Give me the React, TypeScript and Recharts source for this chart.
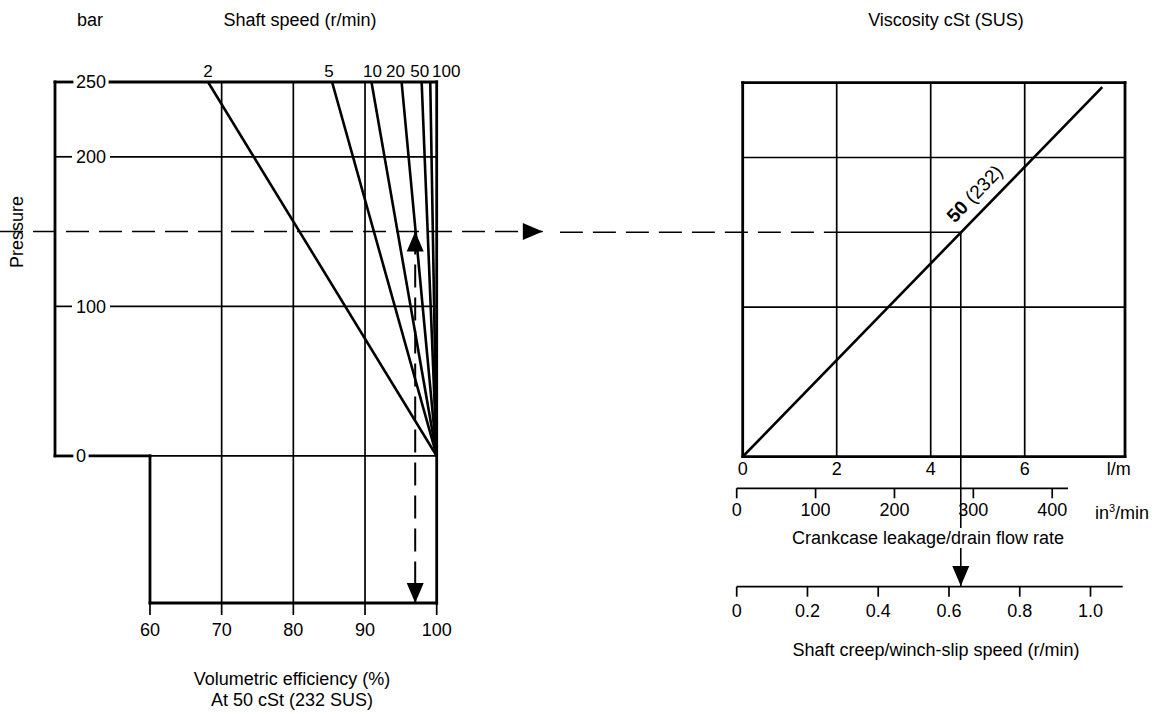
import React from 'react';
import { LineChart, Line, XAxis, YAxis, ReferenceLine } from 'recharts';

const FONT = "'Liberation Sans', Arial, sans-serif";
const INK = '#000';

// pressure (bar)
const pressureTicks = [0, 100, 200, 250];
const pressureGrid = [100, 200];

// volumetric efficiency (%)
const efficiencyTicks = [60, 70, 80, 90, 100];
const efficiencyGrid = [70, 80, 90];

// shaft speed lines (r/min): efficiency reached at 250 bar, all start at 100 % / 0 bar
const shaftSpeeds = ['2', '5', '10', '20', '50', '100'];
const efficiencyAt250 = [68.1, 85.4, 90.9, 95.1, 97.9, 99.1];
const speedLabelShift = [0, -3, 1, -6, -2, 16];

// crankcase leakage at 50 cSt (232 SUS)
const leakFlow = [0, 7.65];
const leakPressure = [0, 247];
const flowTicks = [0, 2, 4, 6, 8];
const flowGrid = [2, 4, 6];

const in3Ticks = [0, 100, 200, 300, 400];
const creepTicks = [0, 0.2, 0.4, 0.6, 0.8, 1.0];

// worked example
const examplePressure = 150;
const exampleEfficiency = 97;
const exampleFlow = 4.64;

// axis extents
const EFF_MIN = 46.75;
const EFF_MAX = 100;
const P_MIN = -98.3;
const P_MAX = 250;
const FLOW_MAX = 8.134;
const IN3_MAX = 420;
const CREEP_MAX = 1.091;

// left chart: 7.168 px per % efficiency, plot starts at x = 55
const PX_PER_EFF = 7.168;
const LABEL_X = 76;
const effAtPx = (px: number) => EFF_MIN + (px - 55) / PX_PER_EFF;
const stubEnd = effAtPx(LABEL_X - 4);
const gapEnd = (label: string) => effAtPx(LABEL_X + label.length * 10 + 4);

const THICK = 2.8;
const THIN = 1.7;

const speedData = shaftSpeeds.map((s, i) => [
  { eff: EFF_MAX, p: 0, speed: s },
  { eff: efficiencyAt250[i], p: P_MAX, speed: s },
]);
const leakData = leakFlow.map((f, i) => ({ flow: f, p: leakPressure[i] }));

const head = (tx: number, ty: number, fx: number, fy: number, len = 20, half = 8.5) => {
  const a = Math.atan2(ty - fy, tx - fx);
  const bx = tx - len * Math.cos(a);
  const by = ty - len * Math.sin(a);
  const nx = -Math.sin(a) * half;
  const ny = Math.cos(a) * half;
  return `${tx},${ty} ${bx + nx},${by + ny} ${bx - nx},${by - ny}`;
};

const ArrowLine = (props: any) => {
  const { x1, y1, x2, y2, stroke, strokeWidth, strokeDasharray, atStart, atEnd } = props;
  return (
    <g>
      <line x1={x1} y1={y1} x2={x2} y2={y2} stroke={stroke} strokeWidth={strokeWidth} strokeDasharray={strokeDasharray} />
      {atStart && <polygon points={head(x1, y1, x2, y2)} fill={INK} />}
      {atEnd && <polygon points={head(x2, y2, x1, y1)} fill={INK} />}
    </g>
  );
};

const PressureTick = (props: any) => {
  const { y, payload } = props;
  return (
    <text x={LABEL_X} y={y} dy="0.35em" fill={INK} fontSize={18} fontFamily={FONT}>
      {payload.value}
    </text>
  );
};

const tickStyle = { fill: INK, fontSize: 18, fontFamily: FONT };
const abs = (left: number, top: number): React.CSSProperties => ({ position: 'absolute', left, top });

const Title = ({ x, y, children, rotate = 0, bg = false, size = 18 }: any) => (
  <div
    style={{
      position: 'absolute',
      left: x,
      top: y,
      transform: `translate(-50%, -50%) rotate(${rotate}deg)`,
      whiteSpace: 'nowrap',
      fontSize: size,
      lineHeight: '20px',
      fontFamily: FONT,
      color: INK,
      background: bg ? '#fff' : 'transparent',
    }}
  >
    {children}
  </div>
);

export default function App() {
  return (
    <div style={{ position: 'absolute', left: 0, top: 0, width: 1164, height: 714, background: '#fff', fontFamily: FONT }}>
      {/* volumetric efficiency vs pressure */}
      <div style={abs(0, 0)}>
        <LineChart width={600} height={714} margin={{ top: 82, right: 163.3, bottom: 71, left: 25 }}>
          <XAxis
            type="number"
            dataKey="eff"
            domain={[EFF_MIN, EFF_MAX]}
            ticks={efficiencyTicks}
            interval={0}
            allowDataOverflow
            height={40}
            axisLine={false}
            tickSize={12}
            tickMargin={8}
            tickLine={{ stroke: INK, strokeWidth: THIN }}
            tick={tickStyle}
          />
          <YAxis
            type="number"
            dataKey="p"
            domain={[P_MIN, P_MAX]}
            ticks={pressureTicks}
            interval={0}
            allowDataOverflow
            width={30}
            axisLine={false}
            tickLine={false}
            tick={(tp: any) => <PressureTick {...tp} />}
          />
          {/* pressure lines, broken where the tick labels sit */}
          {pressureGrid.map((p) => (
            <ReferenceLine key={`ps${p}`} segment={[{ x: EFF_MIN, y: p }, { x: stubEnd, y: p }]} stroke={INK} strokeWidth={THIN} />
          ))}
          {pressureGrid.map((p) => (
            <ReferenceLine key={`pg${p}`} segment={[{ x: gapEnd(String(p)), y: p }, { x: EFF_MAX, y: p }]} stroke={INK} strokeWidth={THIN} />
          ))}
          {efficiencyGrid.map((e) => (
            <ReferenceLine key={`eg${e}`} x={e} stroke={INK} strokeWidth={THIN} />
          ))}
          <ReferenceLine segment={[{ x: 60, y: 0 }, { x: EFF_MAX, y: 0 }]} stroke={INK} strokeWidth={THIN} />
          <ReferenceLine segment={[{ x: EFF_MIN, y: P_MAX }, { x: stubEnd, y: P_MAX }]} stroke={INK} strokeWidth={THICK} strokeLinecap="square" />
          <ReferenceLine segment={[{ x: gapEnd(String(P_MAX)), y: P_MAX }, { x: EFF_MAX, y: P_MAX }]} stroke={INK} strokeWidth={THICK} strokeLinecap="square" />
          <ReferenceLine segment={[{ x: EFF_MIN, y: 0 }, { x: stubEnd, y: 0 }]} stroke={INK} strokeWidth={THICK} strokeLinecap="square" />
          <ReferenceLine segment={[{ x: gapEnd('0'), y: 0 }, { x: 60, y: 0 }]} stroke={INK} strokeWidth={THICK} strokeLinecap="square" />
          <ReferenceLine segment={[{ x: EFF_MIN, y: 0 }, { x: EFF_MIN, y: P_MAX }]} stroke={INK} strokeWidth={THICK} strokeLinecap="square" />
          <ReferenceLine segment={[{ x: 60, y: P_MIN }, { x: 60, y: 0 }]} stroke={INK} strokeWidth={THICK} strokeLinecap="square" />
          <ReferenceLine segment={[{ x: 60, y: P_MIN }, { x: EFF_MAX, y: P_MIN }]} stroke={INK} strokeWidth={THICK} strokeLinecap="square" />
          <ReferenceLine x={EFF_MAX} stroke={INK} strokeWidth={THICK} strokeLinecap="square" />
          {speedData.map((d, i) => (
            <Line
              key={`s${i}`}
              data={d}
              dataKey="p"
              stroke={INK}
              strokeWidth={2.6}
              dot={false}
              activeDot={false}
              isAnimationActive={false}
              label={(lp: any) =>
                lp.index === 1 ? (
                  <text x={lp.x + speedLabelShift[i]} y={lp.y - 5} textAnchor="middle" fill={INK} fontSize={17} fontFamily={FONT}>
                    {shaftSpeeds[i]}
                  </text>
                ) : (
                  <g />
                )
              }
            />
          ))}
          <ReferenceLine
            segment={[{ x: 39.08, y: examplePressure }, { x: 114.8, y: examplePressure }]}
            ifOverflow="visible"
            stroke={INK}
            strokeWidth={1.5}
            strokeDasharray="23 10"
            shape={(p: any) => <ArrowLine {...p} atEnd />}
          />
          <ReferenceLine
            segment={[{ x: exampleEfficiency, y: examplePressure }, { x: exampleEfficiency, y: P_MIN }]}
            ifOverflow="visible"
            stroke={INK}
            strokeWidth={2}
            strokeDasharray="23 10"
            shape={(p: any) => <ArrowLine {...p} atStart atEnd />}
          />
        </LineChart>
      </div>

      {/* leakage flow vs pressure */}
      <div style={abs(560, 0)}>
        <LineChart width={604} height={714} margin={{ top: 82.7, right: 39, bottom: 227.3, left: 182.7 }}>
          <XAxis
            type="number"
            dataKey="flow"
            domain={[0, FLOW_MAX]}
            ticks={flowTicks}
            interval={0}
            allowDataOverflow
            height={30}
            axisLine={false}
            tickLine={false}
            tickSize={0}
            tickMargin={6}
            tick={tickStyle}
            tickFormatter={(v: number) => (v === 8 ? 'l/m' : String(v))}
          />
          <YAxis type="number" dataKey="p" domain={[0, P_MAX]} hide width={0} allowDataOverflow />
          {flowGrid.map((f) => (
            <ReferenceLine key={`fg${f}`} x={f} stroke={INK} strokeWidth={THIN} />
          ))}
          {pressureGrid.map((p) => (
            <ReferenceLine key={`rg${p}`} y={p} stroke={INK} strokeWidth={THIN} />
          ))}
          <ReferenceLine x={0} stroke={INK} strokeWidth={THICK} strokeLinecap="square" />
          <ReferenceLine x={FLOW_MAX} stroke={INK} strokeWidth={THICK} strokeLinecap="square" />
          <ReferenceLine y={0} stroke={INK} strokeWidth={THICK} strokeLinecap="square" />
          <ReferenceLine y={P_MAX} stroke={INK} strokeWidth={THICK} strokeLinecap="square" />
          <ReferenceLine
            segment={[{ x: -3.89, y: examplePressure }, { x: 2, y: examplePressure }]}
            ifOverflow="visible"
            stroke={INK}
            strokeWidth={1.5}
            strokeDasharray="23 10"
          />
          <ReferenceLine segment={[{ x: 2, y: examplePressure }, { x: exampleFlow, y: examplePressure }]} stroke={INK} strokeWidth={1.5} />
          <ReferenceLine
            segment={[{ x: exampleFlow, y: examplePressure }, { x: exampleFlow, y: -86.4 }]}
            ifOverflow="visible"
            stroke={INK}
            strokeWidth={1.6}
            shape={(p: any) => <ArrowLine {...p} atEnd />}
          />
          <Line data={leakData} dataKey="p" stroke={INK} strokeWidth={2.6} dot={false} activeDot={false} isAnimationActive={false} />
        </LineChart>
      </div>

      {/* in3/min scale */}
      <div style={abs(700, 440)}>
        <LineChart width={464} height={100} margin={{ top: 40, right: 96, bottom: 21.7, left: 36.7 }} data={in3Ticks.map((v) => ({ v }))}>
          <XAxis
            type="number"
            dataKey="v"
            domain={[0, IN3_MAX]}
            ticks={in3Ticks}
            interval={0}
            height={30}
            axisLine={{ stroke: INK, strokeWidth: THIN }}
            tickLine={{ stroke: INK, strokeWidth: THIN }}
            tickSize={10}
            tickMargin={5}
            tick={tickStyle}
          />
          <YAxis hide width={0} domain={[0, 1]} />
        </LineChart>
      </div>

      {/* shaft creep scale */}
      <div style={abs(700, 540)}>
        <LineChart width={464} height={100} margin={{ top: 40, right: 41.3, bottom: 23.3, left: 36.7 }} data={creepTicks.map((v) => ({ v }))}>
          <XAxis
            type="number"
            dataKey="v"
            domain={[0, CREEP_MAX]}
            ticks={creepTicks}
            interval={0}
            height={30}
            axisLine={{ stroke: INK, strokeWidth: THIN }}
            tickLine={{ stroke: INK, strokeWidth: THIN }}
            tickSize={10}
            tickMargin={8}
            tick={tickStyle}
            tickFormatter={(v: number) => (v === 0 ? '0' : v.toFixed(1))}
          />
          <YAxis hide width={0} domain={[0, 1]} />
        </LineChart>
      </div>

      <Title x={90} y={20}>bar</Title>
      <Title x={300} y={20}>Shaft speed (r/min)</Title>
      <Title x={946} y={20}>Viscosity cSt (SUS)</Title>
      <Title x={17} y={232} rotate={-90}>Pressure</Title>
      <Title x={975} y={194} rotate={-46} size={19}>
        <b>50</b> (232)
      </Title>
      <Title x={292} y={679}>Volumetric efficiency (%)</Title>
      <Title x={292} y={700}>At 50 cSt (232 SUS)</Title>
      <Title x={1122} y={510}>
        in<sup style={{ fontSize: 11 }}>3</sup>/min
      </Title>
      <Title x={928} y={538} bg>
        Crankcase leakage/drain flow rate
      </Title>
      <Title x={936} y={650}>Shaft creep/winch-slip speed (r/min)</Title>
    </div>
  );
}
